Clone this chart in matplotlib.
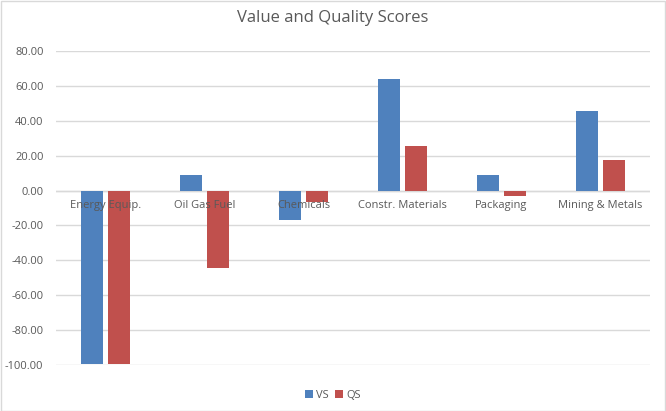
import matplotlib
import numpy as np

matplotlib.use("Agg")
import matplotlib.pyplot as plt
from matplotlib.patches import Rectangle

categories = ["Energy Equip.", "Oil Gas Fuel", "Chemicals", "Constr. Materials", "Packaging", "Mining & Metals"]
vs_scores = [-99.3, 8.7, -16.9, 64.0, 8.7, 45.8]
qs_scores = [-99.3, -44.5, -6.8, 25.8, -3.0, 17.3]
y_ticks = [-100, -80, -60, -40, -20, 0, 20, 40, 60, 80]

BLUE = "#4F81BD"
RED = "#C0504D"
TEXT = "#595959"
GRID = "#D9D9D9"

plt.rcParams["font.family"] = ["Open Sans", "DejaVu Sans"]

fig = plt.figure(figsize=(6.66, 4.11), dpi=100)
ax = fig.add_axes([56 / 666, 46 / 411, 594 / 666, 314 / 411])

x = np.arange(len(categories))
width = 0.22
ax.bar(x - 0.14, vs_scores, width, color=BLUE, label="VS", zorder=2)
ax.bar(x + 0.14, qs_scores, width, color=RED, label="QS", zorder=2)

ax.set_xlim(-0.5, len(categories) - 0.5)
ax.set_ylim(-100, 80)
ax.set_yticks(y_ticks)
ax.set_yticklabels([f"{v:.2f}" for v in y_ticks], fontsize=8, color=TEXT)
ax.tick_params(axis="y", length=0, pad=9)
ax.set_xticks([])
ax.grid(axis="y", color=GRID, linewidth=1, zorder=0)
ax.axhline(0, color=GRID, linewidth=1, zorder=1)
for s in ax.spines.values():
    s.set_visible(False)

for i, name in enumerate(categories):
    ax.annotate(name, (i, 0), xytext=(0, -6.5), textcoords="offset points",
                ha="center", va="top", fontsize=8, color=TEXT, zorder=5)

fig.suptitle("Value and Quality Scores", y=0.975, fontsize=12, color=TEXT)
fig.legend(loc="lower center", bbox_to_anchor=(0.5, 0.0), ncol=2, frameon=False,
           fontsize=8, labelcolor=TEXT, handlelength=0.7, handleheight=0.7,
           handletextpad=0.3, columnspacing=0.6)

fig.patches.append(Rectangle((0.5 / 666, 0.5 / 411), 664.5 / 666, 409.5 / 411, transform=fig.transFigure,
                             fill=False, edgecolor="#D9D9D9", linewidth=1))

fig.savefig("out.png", dpi=100)
plt.close(fig)
